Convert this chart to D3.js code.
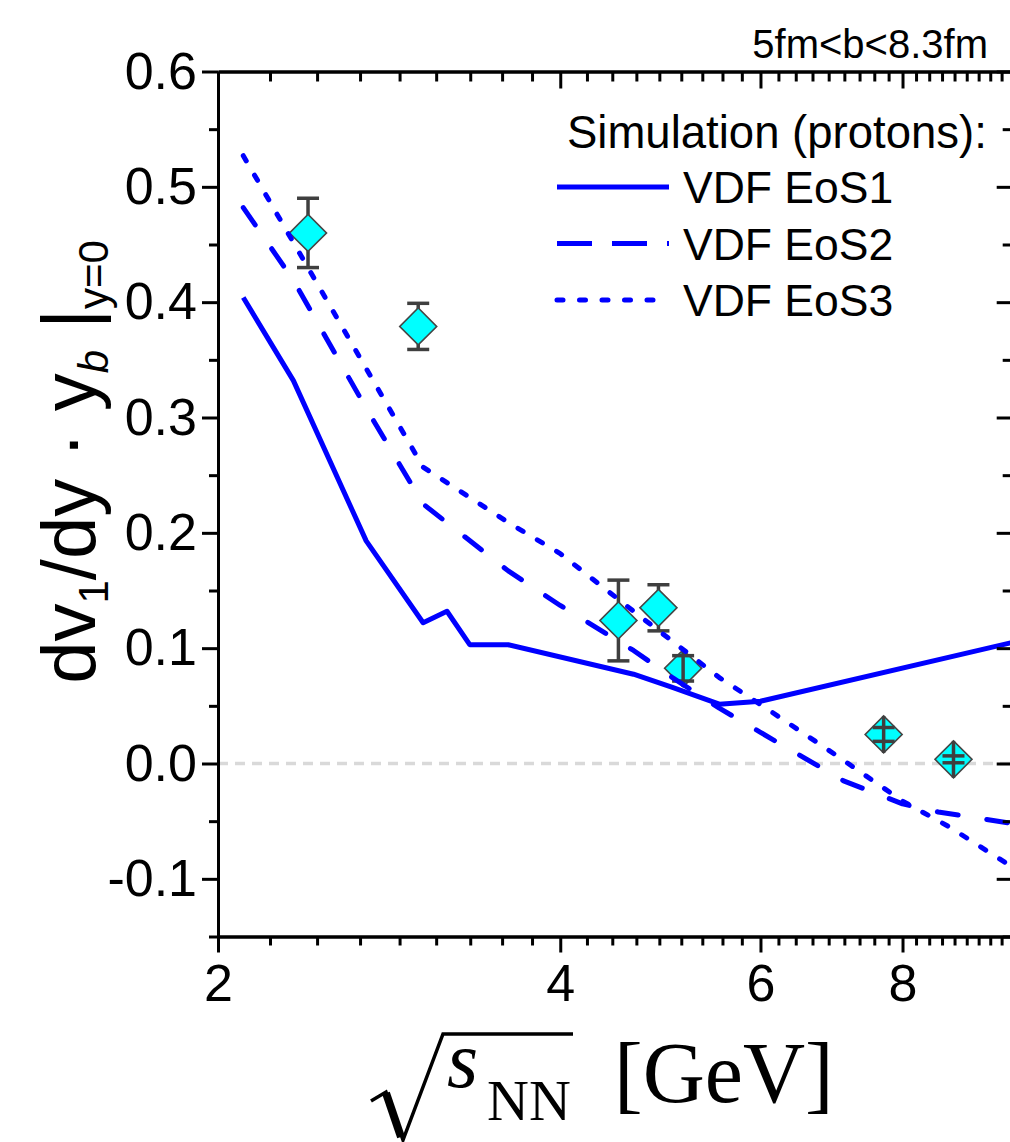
<!DOCTYPE html>
<html>
<head>
<meta charset="utf-8">
<script src="https://cdn.jsdelivr.net/npm/d3@7"></script>
<style>
  body { margin: 0; background: #ffffff; }
  svg { display: block; }
</style>
</head>
<body>
<svg id="chart" width="1010" height="1142"></svg>
<script>
// ---- collision energies (GeV) and slopes of the simulated curves ----
const energyEoS1 = [2.105, 2.33, 2.7, 3.03, 3.18, 3.33, 3.6, 4.64, 5.02, 5.52, 6.0, 10.0];
const slopeEoS1  = [0.404, 0.332, 0.193, 0.122, 0.132, 0.103, 0.103, 0.0774, 0.066, 0.0514, 0.054, 0.105];

const energyEoS2 = [2.105, 2.33, 2.7, 3.03, 3.6, 4.0, 4.64, 5.02, 5.52, 6.0, 7.1, 8.0, 8.6, 10.0];
const slopeEoS2  = [0.482, 0.419, 0.308, 0.225, 0.167, 0.137, 0.098, 0.0745, 0.048, 0.027, -0.015, -0.035, -0.042, -0.052];

const energyEoS3 = [2.105, 3.03, 3.6, 4.0, 4.64, 5.02, 5.52, 6.0, 7.0, 8.0, 8.8, 10.0];
const slopeEoS3  = [0.527, 0.257, 0.209, 0.182, 0.132, 0.106, 0.0745, 0.0512, 0.0069, -0.0326, -0.0551, -0.09];

// ---- measured proton slopes ----
const expEnergy = [2.4, 3.0, 4.5, 4.88, 5.13, 7.7, 8.87];
const expSlope  = [0.46, 0.379, 0.124, 0.135, 0.0825, 0.0252, 0.0036];
const expError  = [0.030, 0.020, 0.035, 0.020, 0.011, 0.006, 0.003];

// ---- axis ticks and labels ----
const xMajorTicks = [2, 4, 6, 8];
const yMajorTicks = [-0.1, 0.0, 0.1, 0.2, 0.3, 0.4, 0.5, 0.6];
const legendLabels = ["VDF EoS1", "VDF EoS2", "VDF EoS3"];
const legendTitle = "Simulation (protons):";
const centralityLabel = "5fm<b<8.3fm";

const sans = "'Liberation Sans', Arial, Helvetica, sans-serif";
const serif = "'Liberation Serif', 'Times New Roman', Times, serif";

const svg = d3.select("#chart");
const plot = { left: 218, right: 1012.7, top: 71.5, bottom: 936.5 };

const x = d3.scaleLog().domain([2, 10]).range([plot.left, plot.right]);
const y = d3.scaleLinear().domain([-0.15, 0.6]).range([plot.bottom, plot.top]);

// minor ticks: eight between each pair of labelled values
const xMinorTicks = [];
[2, 4, 6, 8].forEach(a => {
  for (let k = 1; k <= 8; k++) xMinorTicks.push(a + k * 2 / 9);
});
const yMinorTicks = d3.range(-0.15, 0.601, 0.05).map(v => +v.toFixed(2))
  .filter(v => !yMajorTicks.some(m => Math.abs(m - v) < 1e-6));

svg.append("defs").append("clipPath").attr("id", "plotClip")
  .append("rect")
  .attr("x", plot.left).attr("y", plot.top)
  .attr("width", plot.right - plot.left).attr("height", plot.bottom - plot.top);

// zero reference line
svg.append("line")
  .attr("x1", plot.left).attr("x2", plot.right)
  .attr("y1", y(0)).attr("y2", y(0))
  .attr("stroke", "#d9d9d9").attr("stroke-width", 3.5)
  .attr("stroke-dasharray", "10,7");

// ---- data points: diamonds with error bars ----
const dataG = svg.append("g").attr("clip-path", "url(#plotClip)");
const half = 18.5;    // half diagonal of the diamond
const capHalf = 11;
const barColor = "#3f3f3f";
const points = expEnergy.map((e, i) => ({ e, v: expSlope[i], err: expError[i] }));

points.forEach(p => {
  const cx = x(p.e), cy = y(p.v);
  const yTop = y(p.v + p.err), yBot = y(p.v - p.err);
  const small = (cy - yTop) < half;
  const g = dataG.append("g");
  const drawBar = (sel, y1, y2) => {
    sel.append("line").attr("x1", cx).attr("x2", cx).attr("y1", y1).attr("y2", y2)
      .attr("stroke", barColor).attr("stroke-width", 3.5);
    [yTop, yBot].forEach(yy => sel.append("line")
      .attr("x1", cx - capHalf).attr("x2", cx + capHalf).attr("y1", yy).attr("y2", yy)
      .attr("stroke", barColor).attr("stroke-width", 3.5));
  };
  if (!small) drawBar(g, yTop, yBot);
  g.append("path")
    .attr("d", d3.symbol().type(d3.symbolSquare).size(2 * half * half)())
    .attr("transform", `translate(${cx},${cy}) rotate(45)`)
    .attr("fill", "#00ffff").attr("stroke", "#454545").attr("stroke-width", 1.6);
  if (small) drawBar(g, cy - half, cy + half);
});

// ---- simulated curves ----
const curves = [
  { e: energyEoS1, v: slopeEoS1, dash: null, legendDash: null, cap: "butt" },
  { e: energyEoS2, v: slopeEoS2, dash: "21,29", legendDash: "35,20", cap: "round" },
  { e: energyEoS3, v: slopeEoS3, dash: "6,16.5", legendDash: "6,16.5", cap: "round" }
];
const line = d3.line().x(d => x(d[0])).y(d => y(d[1]));
const curveG = svg.append("g").attr("clip-path", "url(#plotClip)");
curves.forEach(c => {
  curveG.append("path")
    .attr("d", line(c.e.map((e, i) => [e, c.v[i]])))
    .attr("fill", "none").attr("stroke", "#0000ff").attr("stroke-width", 5)
    .attr("stroke-linejoin", "round")
    .attr("stroke-linecap", c.cap)
    .attr("stroke-dasharray", c.dash);
});

// ---- axes ----
function styleAxis(g) {
  g.selectAll("path.domain").attr("stroke", "#000").attr("stroke-width", 3);
  g.selectAll(".tick line").attr("stroke", "#000").attr("stroke-width", 3);
  g.selectAll(".tick text").attr("fill", "#000")
    .style("font-family", sans).style("font-size", "52px");
}
const yFmt = v => (Math.abs(v) < 1e-9 ? "0.0" : v.toFixed(1));

// bottom
svg.append("g").attr("transform", `translate(0,${plot.bottom})`)
  .call(d3.axisBottom(x).tickValues(xMinorTicks).tickSize(9).tickSizeOuter(0).tickFormat(""))
  .call(styleAxis);
svg.append("g").attr("transform", `translate(0,${plot.bottom})`)
  .call(d3.axisBottom(x).tickValues(xMajorTicks).tickSize(16).tickPadding(12).tickSizeOuter(0)
    .tickFormat(d3.format("d")))
  .call(styleAxis);
// top
svg.append("g").attr("transform", `translate(0,${plot.top})`)
  .call(d3.axisTop(x).tickValues(xMinorTicks).tickSize(-10).tickSizeOuter(0).tickFormat(""))
  .call(styleAxis);
svg.append("g").attr("transform", `translate(0,${plot.top})`)
  .call(d3.axisTop(x).tickValues(xMajorTicks).tickSize(-17).tickSizeOuter(0).tickFormat(""))
  .call(styleAxis);
// left
svg.append("g").attr("transform", `translate(${plot.left},0)`)
  .call(d3.axisLeft(y).tickValues(yMinorTicks).tickSize(9).tickSizeOuter(0).tickFormat(""))
  .call(styleAxis);
svg.append("g").attr("transform", `translate(${plot.left},0)`)
  .call(d3.axisLeft(y).tickValues(yMajorTicks).tickSize(16).tickPadding(5).tickSizeOuter(0)
    .tickFormat(yFmt))
  .call(styleAxis);
// right
svg.append("g").attr("transform", `translate(${plot.right},0)`)
  .call(d3.axisRight(y).tickValues(yMinorTicks).tickSize(-10).tickSizeOuter(0).tickFormat(""))
  .call(styleAxis);
svg.append("g").attr("transform", `translate(${plot.right},0)`)
  .call(d3.axisRight(y).tickValues(yMajorTicks).tickSize(-16).tickSizeOuter(0).tickFormat(""))
  .call(styleAxis);

// ---- centrality label ----
svg.append("text")
  .attr("x", 988).attr("y", 58).attr("text-anchor", "end")
  .style("font-family", sans).style("font-size", "40px")
  .text(centralityLabel);

// ---- legend ----
const leg = svg.append("g");
leg.append("text").attr("x", 567).attr("y", 148)
  .style("font-family", sans).style("font-size", "45.5px").text(legendTitle);
curves.forEach((c, i) => {
  const ly = 187 + i * 56.5;
  leg.append("line")
    .attr("x1", 557).attr("x2", 669).attr("y1", ly).attr("y2", ly)
    .attr("stroke", "#0000ff").attr("stroke-width", 5)
    .attr("stroke-linecap", c.legendDash === "35,20" ? "butt" : c.cap)
    .attr("stroke-dasharray", c.legendDash);
  leg.append("text").attr("x", 683).attr("y", ly + 16)
    .style("font-family", sans).style("font-size", "44.5px").text(legendLabels[i]);
});

// ---- y-axis title ----
const yt = svg.append("text")
  .attr("transform", "translate(95,462) rotate(-90)")
  .attr("text-anchor", "middle")
  .style("font-family", sans).style("font-size", "76px").attr("fill", "#000");
yt.append("tspan").text("dv");
yt.append("tspan").attr("dy", 13).style("font-size", "42px").text("1");
yt.append("tspan").attr("dy", -13).text("/dy \u00b7 y");
yt.append("tspan").attr("dy", 13).style("font-size", "42px").style("font-style", "italic").text("b");
yt.append("tspan").attr("dy", -13).text(" |");
yt.append("tspan").attr("dy", 13).style("font-size", "42px").text("y=0");

// ---- x-axis title: radical sign with overline, then s_NN [GeV] ----
const xt = svg.append("g");
xt.append("path")
  .attr("d", "M371,1101 L386,1092 L403,1140 L443,1034 L573,1034")
  .attr("fill", "none").attr("stroke", "#000").attr("stroke-width", 3.5)
  .attr("stroke-linejoin", "miter");
xt.append("path")
  .attr("d", "M386,1093 L401,1137")
  .attr("fill", "none").attr("stroke", "#000").attr("stroke-width", 8);
xt.append("text").attr("x", 447).attr("y", 1087)
  .style("font-family", serif).style("font-size", "80px").style("font-style", "italic").text("s");
xt.append("text").attr("x", 487).attr("y", 1120)
  .style("font-family", serif).style("font-size", "58px").text("NN");
xt.append("text").attr("x", 614).attr("y", 1102)
  .style("font-family", serif).style("font-size", "86px").text("[GeV]");
</script>
</body>
</html>
